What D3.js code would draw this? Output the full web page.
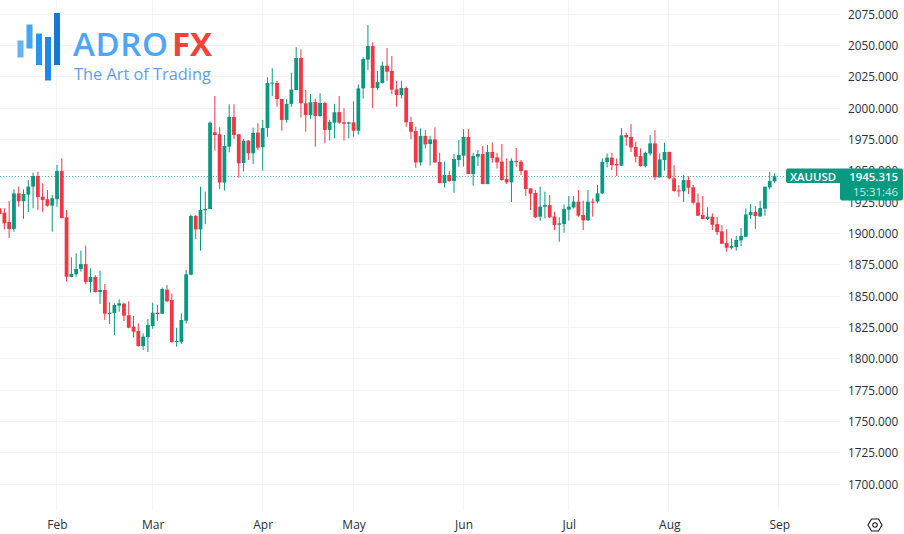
<!DOCTYPE html>
<html><head><meta charset="utf-8">
<script src="https://cdn.jsdelivr.net/npm/d3@7"></script>
<style>html,body{margin:0;padding:0;background:#fff}svg{display:block}</style>
</head><body><div id="chart"></div>
<script>
const opens=[1919.7,1916.2,1908.8,1903.2,1931.6,1925.3,1930.6,1937.0,1945.5,1929.0,
1926.9,1921.8,1927.1,1949.5,1912.5,1864.9,1867.0,1871.3,1875.2,1860.9,
1864.9,1852.9,1854.5,1835.3,1836.1,1842.0,1843.6,1834.3,1825.2,1821.8,
1809.8,1817.0,1825.8,1836.4,1835.6,1854.8,1846.5,1813.0,1813.0,1830.0,
1866.7,1913.6,1902.9,1918.1,1919.1,1980.3,1978.8,1940.2,1968.9,1992.6,
1978.8,1955.8,1973.7,1963.6,1980.1,1968.4,1983.8,2019.5,2019.7,2006.9,
1990.2,2003.0,2014.1,2039.6,2003.5,1994.1,2004.5,1993.3,2003.7,1982.2,
1988.0,1996.5,1988.3,1987.2,1988.3,1981.6,2015.4,2038.3,2049.2,2015.7,
2019.7,2033.5,2029.3,2014.6,2010.1,2015.7,1988.5,1981.3,1956.3,1977.4,
1971.0,1974.7,1956.6,1939.8,1946.2,1941.4,1958.2,1961.7,1976.6,1947.0,
1960.9,1963.0,1939.0,1964.6,1960.3,1956.9,1943.0,1940.4,1957.4,1956.9,
1949.9,1935.6,1931.9,1913.0,1921.0,1922.3,1913.2,1906.6,1907.1,1918.6,
1920.4,1925.0,1914.3,1910.1,1925.0,1925.0,1931.6,1956.6,1960.1,1955.0,
1953.7,1978.2,1976.6,1968.6,1961.4,1953.4,1963.5,1971.5,1944.4,1958.2,
1964.6,1943.6,1934.0,1933.2,1942.2,1936.4,1924.2,1914.3,1911.1,1913.0,
1907.1,1901.3,1892.0,1888.2,1888.8,1894.1,1897.0,1914.3,1916.7,1913.2,
1919.4,1936.4,1941.2];
const highs=[1919.7,1919.7,1925.5,1934.8,1937.0,1934.8,1942.3,1948.1,1948.9,1939.6,
1934.3,1930.3,1954.3,1959.6,1918.3,1880.6,1883.8,1885.9,1889.9,1871.8,
1866.5,1869.9,1859.3,1844.7,1843.9,1847.1,1844.4,1845.5,1833.8,1827.9,
1820.0,1831.4,1844.4,1842.5,1856.4,1858.5,1851.8,1824.2,1835.9,1870.5,
1914.6,1914.4,1937.0,1933.0,1989.0,2009.3,1984.3,1978.2,2002.7,2002.7,
1978.8,1975.0,1974.2,1984.0,1987.5,1990.2,2024.2,2031.4,2021.3,2006.9,
2006.9,2028.0,2048.2,2046.5,2014.1,2010.9,2007.2,2011.5,2004.8,1990.2,
2003.0,2009.3,1999.5,1988.8,2005.0,2018.6,2040.2,2066.0,2052.1,2029.3,
2036.7,2047.6,2041.2,2021.3,2021.5,2016.8,1992.8,1984.8,1983.5,1982.1,
1977.4,1984.3,1964.0,1956.9,1949.4,1963.0,1974.2,1982.9,1982.9,1964.0,
1966.2,1969.4,1970.2,1972.3,1964.0,1971.0,1959.5,1959.5,1967.8,1958.2,
1950.2,1935.6,1934.3,1936.9,1932.9,1930.3,1917.0,1912.5,1922.8,1929.5,
1929.5,1934.3,1925.8,1934.3,1927.6,1938.3,1959.5,1963.5,1964.0,1959.5,
1983.7,1980.0,1986.9,1972.8,1967.5,1964.9,1978.2,1982.1,1963.5,1972.0,
1964.9,1954.2,1938.3,1946.2,1945.4,1938.3,1931.6,1929.5,1920.4,1915.6,
1913.0,1906.3,1902.9,1895.7,1897.6,1904.0,1919.6,1923.1,1921.5,1925.7,
1937.0,1948.9,1947.6];
const lows=[1915.1,1902.9,1896.0,1901.0,1921.0,1911.2,1916.7,1919.7,1918.3,1916.7,
1921.0,1901.0,1921.0,1911.7,1861.2,1864.6,1865.1,1869.1,1859.0,1852.4,
1852.4,1843.3,1830.6,1827.4,1818.6,1837.2,1829.8,1823.9,1816.7,1809.3,
1806.6,1805.0,1823.6,1830.0,1835.6,1844.7,1812.5,1809.3,1811.4,1827.9,
1866.2,1895.2,1885.9,1907.2,1919.0,1965.7,1935.1,1933.8,1964.4,1975.0,
1944.1,1949.0,1958.2,1955.0,1966.2,1949.7,1976.9,2009.3,2000.8,1981.6,
1988.0,2000.8,2014.1,1992.0,1980.8,1991.2,1968.9,1992.8,1971.5,1973.7,
1975.5,1987.0,1973.7,1975.5,1976.9,1978.5,2007.2,2030.0,1999.5,2014.1,
2019.4,2021.5,2010.9,2000.8,2007.4,1984.8,1974.7,1952.1,1953.7,1967.5,
1953.7,1956.1,1939.6,1936.4,1940.9,1932.1,1952.9,1952.9,1947.0,1937.7,
1953.4,1939.0,1939.0,1956.1,1951.5,1941.7,1939.0,1924.7,1952.9,1946.2,
1929.5,1918.3,1911.9,1909.8,1911.6,1911.9,1902.3,1893.0,1900.2,1909.8,
1919.6,1913.0,1902.3,1909.5,1913.0,1923.6,1931.1,1952.3,1950.2,1945.4,
1953.4,1969.6,1964.6,1956.3,1952.9,1952.3,1961.7,1942.2,1944.1,1949.7,
1942.8,1932.9,1928.9,1924.7,1931.1,1922.8,1913.5,1910.9,1910.3,1902.3,
1898.4,1891.2,1885.0,1886.9,1885.9,1889.6,1896.8,1911.1,1903.1,1913.0,
1913.8,1934.8,1940.0];
const closes=[1915.1,1907.7,1903.2,1931.6,1925.3,1931.1,1937.0,1945.5,1928.7,1926.3,
1921.8,1927.7,1949.5,1911.9,1865.1,1867.3,1871.3,1875.2,1860.9,1864.9,
1852.9,1854.5,1835.6,1836.4,1842.5,1843.9,1834.0,1824.4,1821.2,1809.8,
1817.3,1826.6,1836.4,1835.3,1855.3,1845.5,1813.0,1813.8,1830.6,1867.0,
1913.6,1902.9,1918.3,1919.1,1988.0,1978.2,1940.2,1969.4,1992.6,1978.2,
1955.6,1973.7,1963.6,1979.8,1968.1,1983.8,2019.7,2020.0,2006.9,1990.2,
2003.0,2014.4,2039.6,2003.5,1994.1,2004.3,1993.3,2003.7,1982.2,1988.6,
1996.3,1988.0,1987.2,1988.3,1981.6,2015.4,2038.8,2049.2,2015.7,2020.5,
2033.5,2028.7,2014.4,2010.1,2015.7,1988.3,1980.8,1956.3,1977.4,1970.7,
1974.7,1956.3,1939.8,1946.2,1941.4,1959.0,1962.2,1976.6,1947.0,1961.4,
1963.0,1939.0,1964.6,1959.8,1956.3,1942.2,1940.4,1957.7,1956.6,1949.4,
1935.1,1931.3,1912.5,1921.0,1922.3,1912.5,1906.3,1907.7,1919.1,1921.0,
1925.0,1913.8,1910.1,1925.0,1924.4,1931.6,1956.6,1960.1,1954.2,1953.9,
1977.9,1976.3,1968.3,1960.9,1953.4,1964.0,1971.5,1944.4,1958.7,1964.6,
1943.6,1933.5,1933.2,1942.2,1936.1,1924.2,1913.8,1911.1,1913.0,1906.6,
1900.7,1891.4,1888.2,1889.6,1894.4,1897.6,1914.8,1916.7,1913.5,1919.9,
1936.9,1941.4,1945.3];
const priceTicks=[1700,1725,1750,1775,1800,1825,1850,1875,1900,1925,1950,1975,2000,2025,2050,2075];
const monthLabels=["Feb","Mar","Apr","May","Jun","Jul","Aug","Sep"];
const monthIndex=[12,32,55,74,97,119,140,163];
const symbol="XAUUSD", lastPrice=1945.315, countdown="15:31:46";

const W=904,H=534;
const upColor="#089981",downColor="#f23645",gridColor="#f3f4f8",textColor="#2a2e39";
const font="'Open Sans','Noto Sans',sans-serif";
const svg=d3.select("#chart").append("svg").attr("width",W).attr("height",H).style("font-family",font);
const x=d3.scaleLinear().domain([12,163]).range([57,779.3]);
const y=d3.scaleLinear().domain([2050,1800]).range([45,358.3]);
const paneRight=840,paneBottom=510;

svg.append("g").selectAll("line").data(priceTicks).join("line")
 .attr("x1",0).attr("x2",paneRight).attr("y1",d=>Math.round(y(d))+.5).attr("y2",d=>Math.round(y(d))+.5)
 .attr("stroke",gridColor);
svg.append("g").selectAll("line").data(monthIndex).join("line")
 .attr("y1",0).attr("y2",paneBottom).attr("x1",d=>Math.round(x(d))-.5).attr("x2",d=>Math.round(x(d))-.5)
 .attr("stroke",gridColor);

svg.append("line").attr("x1",0).attr("x2",786).attr("y1",Math.round(y(lastPrice))+.5).attr("y2",Math.round(y(lastPrice))+.5)
 .attr("stroke",upColor).attr("stroke-opacity",.7).attr("stroke-dasharray","1 2");

const idx=d3.range(opens.length);
const col=i=>closes[i]>=opens[i]?upColor:downColor;
const bw=3.8;
const g=svg.append("g");
g.selectAll("line").data(idx).join("line")
 .attr("x1",i=>x(i)).attr("x2",i=>x(i)).attr("y1",i=>y(highs[i])).attr("y2",i=>y(lows[i]))
 .attr("stroke",col).attr("stroke-width",1);
g.selectAll("rect").data(idx).join("rect")
 .attr("x",i=>x(i)-bw/2).attr("width",bw)
 .attr("y",i=>y(Math.max(opens[i],closes[i])))
 .attr("height",i=>Math.max(1,Math.abs(y(opens[i])-y(closes[i]))))
 .attr("fill",col);

const yAxis=d3.axisRight(y).tickValues(priceTicks).tickFormat(d3.format(".3f")).tickSize(0).tickPadding(0);
const ya=svg.append("g").attr("transform","translate(848,0.8)").call(yAxis);
ya.select(".domain").remove();
ya.selectAll("text").attr("fill",textColor).style("font-size","11.8px").style("font-family",font);
const xAxis=d3.axisBottom(x).tickValues(monthIndex).tickFormat((d,i)=>monthLabels[i]).tickSize(0).tickPadding(0);
const xa=svg.append("g").attr("transform","translate(0,520)").call(xAxis);
xa.select(".domain").remove();
xa.selectAll("text").attr("fill",textColor).style("font-size","12px").style("font-family",font);

svg.append("path").attr("fill",upColor)
 .attr("d","M788,168.5H901a2,2 0 0 1 2,2V198.5a2,2 0 0 1 -2,2H842a2,2 0 0 1 -2,-2V183H788a2,2 0 0 1 -2,-2V170.5a2,2 0 0 1 2,-2Z");
const lab=svg.append("g").style("font-size","11.4px").style("font-weight",600);
lab.append("text").attr("x",790).attr("y",181).attr("fill","#fff").text(symbol);
lab.append("text").attr("x",898).attr("y",181).attr("text-anchor","end").attr("fill","#fff").text(d3.format(".3f")(lastPrice));
lab.append("text").attr("x",898).attr("y",196).attr("text-anchor","end").attr("fill","#c4ece4").style("font-weight",400).text(countdown);

const ic=svg.append("g").attr("transform","translate(875,525)").attr("fill","none").attr("stroke","#131722").attr("stroke-width",1.1);
ic.append("path").attr("d","M-7,0L-3.5,-6H3.5L7,0L3.5,6H-3.5Z").attr("stroke-linejoin","round");
ic.append("circle").attr("r",2.2);

const logoBars=[[17.5,40.5,57.5,"#64b5f6"],[26.5,24.5,48.5,"#42a5f5"],[36,33.5,65,"#2196f3"],[45,37,80.5,"#1e88e5"],[54,13,65,"#1976d2"]];
svg.append("g").selectAll("rect").data(logoBars).join("rect")
 .attr("x",d=>d[0]).attr("y",d=>d[1]).attr("width",6).attr("height",d=>d[2]-d[1]).attr("fill",d=>d[3]);
svg.append("text").attr("x",73).attr("y",56).attr("fill","#4ea5f8").style("font-size","33px").style("font-weight",600).style("letter-spacing","0.6px").style("font-family","'Open Sans',sans-serif").text("ADRO");
svg.append("text").attr("x",172).attr("y",56).attr("fill","#f44336").style("font-size","33px").style("font-weight",700).style("font-family","'Open Sans',sans-serif").text("FX");
svg.append("text").attr("x",74).attr("y",80).attr("fill","#5f9fe8").style("font-size","16.35px").style("font-family","'Open Sans',sans-serif").text("The Art of Trading");
</script></body></html>
